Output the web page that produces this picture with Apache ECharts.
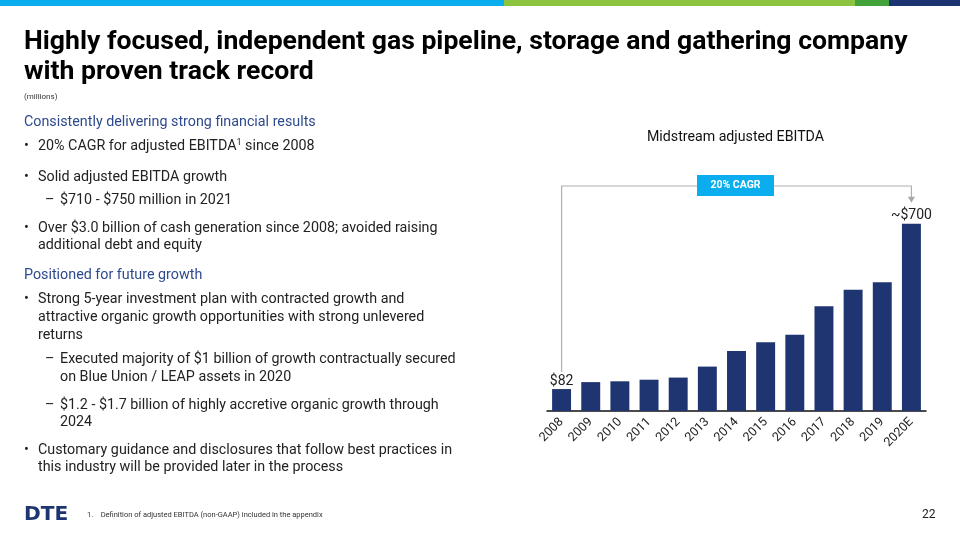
<!DOCTYPE html>
<html><head><meta charset="utf-8">
<script src="https://cdn.jsdelivr.net/npm/echarts@6/dist/echarts.min.js"></script>
<style>html,body{margin:0;padding:0;background:#fff}#c{width:960px;height:540px}</style>
</head><body><div id="c"></div>
<script>
const years = ['2008','2009','2010','2011','2012','2013','2014','2015','2016','2017','2018','2019','2020E'];
const ebitda = [82,108,111,117,125,166,224,257,285,392,453,481,700];
const barLabels = ['$82','','','','','','','','','','','','~$700'];
const chartTitle = 'Midstream adjusted EBITDA';
const cagrText = '20% CAGR';

const FONT = 'Roboto, "Liberation Sans", sans-serif';
const NAVY = '#1f3572';
const chart = echarts.init(document.getElementById('c'), null, {renderer:'canvas'});

function t(x, y, text, size, color, extra) {
  return {type:'text', x:x, y:y, style:Object.assign({text:text, fontSize:size, fill:color||'#222', fontFamily:FONT, textVerticalAlign:'middle'}, extra||{})};
}
const bodyC = '#222';
const headC = '#2e4a8e';
const BS = 14.3;
const g = [
  {type:'rect', shape:{x:0,y:0,width:504,height:6}, style:{fill:'#0aaeef'}},
  {type:'rect', shape:{x:504,y:0,width:351,height:6}, style:{fill:'#8cc43f'}},
  {type:'rect', shape:{x:855,y:0,width:34,height:6}, style:{fill:'#41a33a'}},
  {type:'rect', shape:{x:889,y:0,width:71,height:6}, style:{fill:'#1b3370'}},
  t(24, 42, 'Highly focused, independent gas pipeline, storage and gathering company', 26.6, '#000', {fontWeight:'bold'}),
  t(24, 72, 'with proven track record', 26.6, '#000', {fontWeight:'bold'}),
  t(24, 97, '(millions)', 8, '#333'),
  t(24, 122, 'Consistently delivering strong financial results', 14.3, headC),
  t(24, 146, '•', BS, bodyC),
  {type:'text', x:38, y:146, style:{rich:{a:{fontSize:BS, fill:bodyC, fontFamily:FONT}, s:{fontSize:9, fill:bodyC, fontFamily:FONT, verticalAlign:'top', padding:[0,0,6,0]}}, text:'{a|20% CAGR for adjusted EBITDA}{s|1}{a| since 2008}', textVerticalAlign:'middle'}},
  t(24, 177, '•', BS, bodyC), t(38, 177, 'Solid adjusted EBITDA growth', BS, bodyC),
  t(45, 200, '–', BS, bodyC), t(60, 200, '$710 - $750 million in 2021', BS, bodyC),
  t(24, 228, '•', BS, bodyC), t(38, 228, 'Over $3.0 billion of cash generation since 2008; avoided raising', BS, bodyC),
  t(38, 245, 'additional debt and equity', BS, bodyC),
  t(24, 275, 'Positioned for future growth', 14.3, headC),
  t(24, 299, '•', BS, bodyC), t(38, 299, 'Strong 5-year investment plan with contracted growth and', BS, bodyC),
  t(38, 317, 'attractive organic growth opportunities with strong unlevered', BS, bodyC),
  t(38, 335, 'returns', BS, bodyC),
  t(45, 359, '–', BS, bodyC), t(60, 359, 'Executed majority of $1 billion of growth contractually secured', BS, bodyC),
  t(60, 377, 'on Blue Union / LEAP assets in 2020', BS, bodyC),
  t(45, 405, '–', BS, bodyC), t(60, 405, '$1.2 - $1.7 billion of highly accretive organic growth through', BS, bodyC),
  t(60, 422, '2024', BS, bodyC),
  t(24, 450, '•', BS, bodyC), t(38, 450, 'Customary guidance and disclosures that follow best practices in', BS, bodyC),
  t(38, 467, 'this industry will be provided later in the process', BS, bodyC),
  {type:'text', x:24, y:515, scaleX:1.12, scaleY:1.1, style:{text:'DTE', fontSize:18, fill:NAVY, fontWeight:900, fontFamily:'"DejaVu Sans", sans-serif', textVerticalAlign:'middle'}},
  t(87, 515, '1.    Definition of adjusted EBITDA (non-GAAP) included in the appendix', 7.5, '#333'),
  t(922, 515, '22', 12, '#222'),
  t(735.5, 137, chartTitle, 14.2, '#111', {textAlign:'center'})
];

chart.setOption({
  animation:false,
  grid:{left:547, right:34, top:197, bottom:129, containLabel:false},
  xAxis:{type:'category', data:years, axisLine:{lineStyle:{color:'#111', width:1.5}}, axisTick:{show:false},
    axisLabel:{rotate:45, fontSize:12.5, color:'#222', fontFamily:FONT, margin:9, interval:0}},
  yAxis:{type:'value', min:0, max:800, show:false, splitLine:{show:false}},
  series:[{type:'bar', data:ebitda, barCategoryGap:'35%', itemStyle:{color:NAVY},
    label:{show:true, position:'top', fontSize:14, color:'#222', fontFamily:FONT, distance:1,
      formatter:p=>barLabels[p.dataIndex]}}],
  graphic:g
});

// CAGR bracket, positioned from the data via the chart's scales
const p0 = chart.convertToPixel({seriesIndex:0}, [0, ebitda[0]]);
const pN = chart.convertToPixel({seriesIndex:0}, [years.length-1, ebitda[ebitda.length-1]]);
const topY = 186;
const g2 = g.concat([
  {type:'polyline', shape:{points:[[p0[0], p0[1]-17],[p0[0], topY],[pN[0], topY],[pN[0], pN[1]-25]]}, style:{stroke:'#b0b0b0', lineWidth:1.2, fill:null}},
  {type:'polygon', shape:{points:[[pN[0]-3.5, pN[1]-27],[pN[0]+3.5, pN[1]-27],[pN[0], pN[1]-21]]}, style:{fill:'#a8a8a8'}},
  {type:'rect', shape:{x:697, y:175, width:77, height:21}, style:{fill:'#0aaeef'}},
  t(735.5, 185.5, cagrText, 10.5, '#fff', {textAlign:'center', fontWeight:'bold'})
]);
chart.setOption({graphic:g2}, {replaceMerge:['graphic']});
</script></body></html>
